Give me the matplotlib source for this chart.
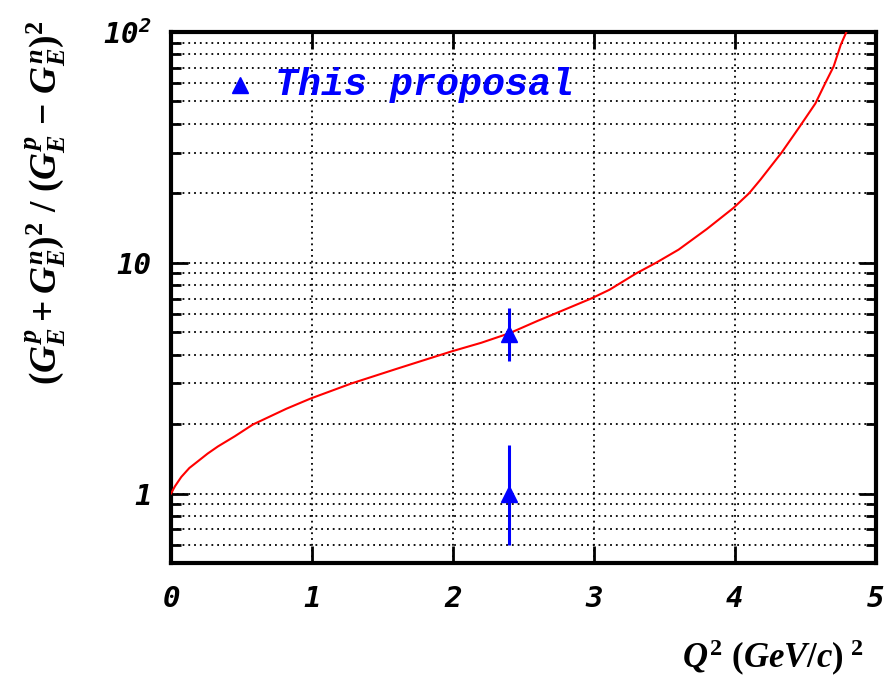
import matplotlib
matplotlib.use("Agg")
import matplotlib.pyplot as plt
from matplotlib.ticker import FixedLocator, FixedFormatter, NullFormatter

plt.rcParams['mathtext.fontset'] = 'custom'
plt.rcParams['mathtext.rm'] = 'Liberation Serif:bold'
plt.rcParams['mathtext.it'] = 'Liberation Serif:italic:bold'
plt.rcParams['mathtext.bf'] = 'Liberation Serif:bold'
plt.rcParams['mathtext.tt'] = 'DejaVu Sans Mono:bold:oblique'

# curve
curve_q2 = [0.0, 0.028, 0.073, 0.13, 0.191, 0.26, 0.333, 0.452, 0.58, 0.818, 0.99,
            1.28, 1.6, 1.99, 2.2, 2.4, 2.6, 2.76, 2.98, 3.11, 3.30, 3.44, 3.60, 3.80,
            3.99, 4.1, 4.18, 4.33, 4.46, 4.57, 4.64, 4.70, 4.75, 4.79]
curve_ratio = [1.0, 1.075, 1.18, 1.29, 1.38, 1.49, 1.60, 1.77, 1.99, 2.33, 2.58,
               3.0, 3.47, 4.13, 4.5, 4.95, 5.6, 6.15, 7.0, 7.64, 9.0, 10.0, 11.4, 14.0,
               17.3, 20.0, 22.9, 30.0, 39.0, 49.0, 60.0, 71.0, 88.0, 100.0]

# proposal points
pt_q2 = [2.4, 2.4]
pt_ratio = [4.9, 1.0]
pt_err_lo = [1.16, 0.40]
pt_err_hi = [1.47, 0.63]

legend_label = "This proposal"

fig = plt.figure(figsize=(8.84, 6.78), dpi=100)
ax = fig.add_axes([171/884, 1-563/678, 705/884, 531/678])

ax.plot(curve_q2, curve_ratio, color='#ff0000', lw=1.5, zorder=3)
ax.errorbar(pt_q2, pt_ratio, yerr=[pt_err_lo, pt_err_hi], fmt='^', color='#0000ff',
            ms=12, elinewidth=2.2, capsize=0, zorder=4)

ax.set_yscale('log')
ax.set_xlim(0, 5)
ax.set_ylim(0.5, 100)

# grid
ygrid = [0.6, 0.7, 0.8, 0.9, 1, 2, 3, 4, 5, 6, 7, 8, 9, 10, 20, 30, 40, 50, 60, 70, 80, 90]
for v in ygrid:
    ax.axhline(v, color='black', ls=(0, (1, 2.2)), lw=1.3, zorder=1)
for v in [1, 2, 3, 4]:
    ax.axvline(v, color='black', ls=(0, (1, 2.2)), lw=1.3, zorder=1)

ax.xaxis.set_major_locator(FixedLocator([0, 1, 2, 3, 4, 5]))
ax.xaxis.set_major_formatter(FixedFormatter(['0', '1', '2', '3', '4', '5']))
ax.yaxis.set_major_locator(FixedLocator([1, 10, 100]))
ax.yaxis.set_major_formatter(FixedFormatter(['1', '10', r'$\mathtt{10^{2}}$']))
ax.yaxis.set_minor_locator(FixedLocator([0.6, 0.7, 0.8, 0.9, 2, 3, 4, 5, 6, 7, 8, 9,
                                         20, 30, 40, 50, 60, 70, 80, 90]))
ax.yaxis.set_minor_formatter(NullFormatter())

ax.tick_params(axis='both', which='major', direction='in', top=True, right=True,
               length=12, width=2)
ax.tick_params(axis='y', which='minor', direction='in', right=True, length=7, width=2)
ax.tick_params(axis='x', pad=16)
ax.tick_params(axis='y', pad=14)
for lab in ax.get_xticklabels() + ax.get_yticklabels():
    lab.set_fontfamily('DejaVu Sans Mono')
    lab.set_fontweight('bold')
    lab.set_fontstyle('oblique')
    lab.set_fontsize(21)

for s in ax.spines.values():
    s.set_linewidth(3)

# legend
ax.plot([0.098], [0.900], marker='^', color='#0000ff', ms=12, transform=ax.transAxes,
        clip_on=False)
ax.text(0.1475, 0.900, legend_label, transform=ax.transAxes, color='#0000ff',
        fontfamily='Liberation Mono', fontweight='bold', fontstyle='italic',
        fontsize=27.5, va='center', ha='left')

fig.text(46/884, 1-203/678,
         r'$(G_E^p + G_E^n)^2\ /\ (G_E^p\ \mathrm{-}\ G_E^n)^2$',
         rotation=90, ha='center', va='center', fontsize=27)
fig.text(863/884, 1-658/678, r'$Q^2\ (GeV/c)^{\ 2}$', ha='right', va='center', fontsize=25)

fig.savefig('out.png', dpi=100)
